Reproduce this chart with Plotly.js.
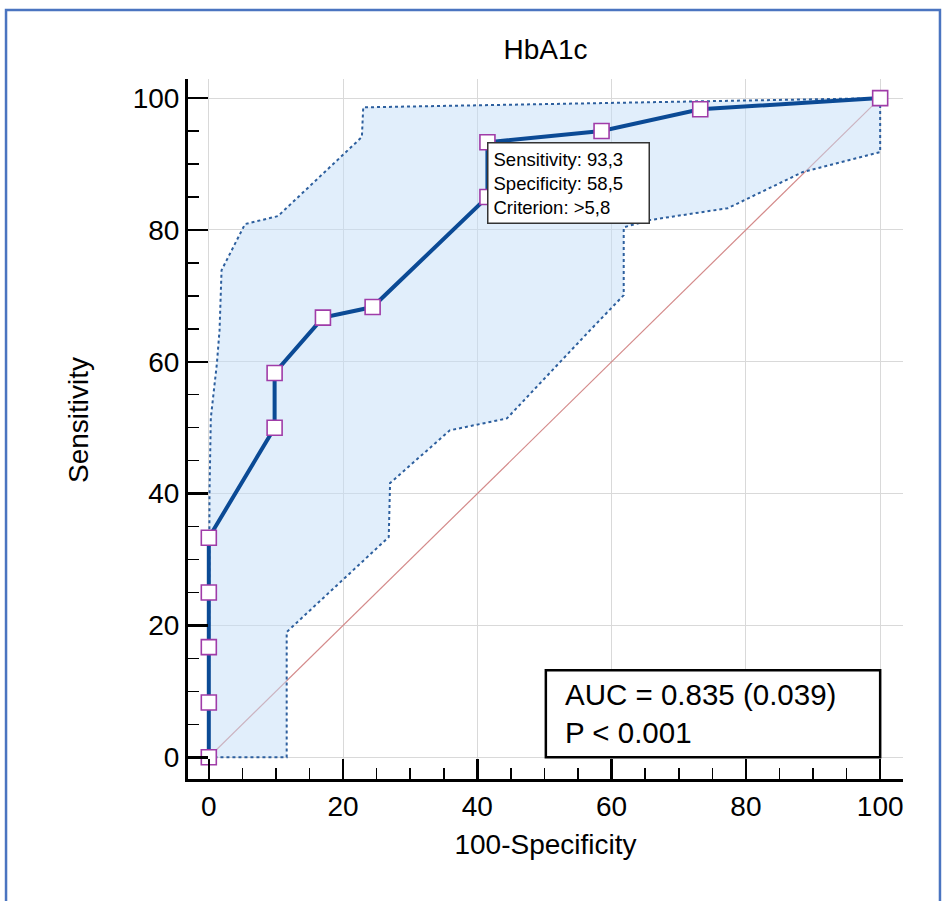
<!DOCTYPE html>
<html>
<head>
<meta charset="utf-8">
<script src="https://cdn.plot.ly/plotly-3.0.1.min.js"></script>
<style>
html,body{margin:0;padding:0;background:#fff;}
#chart{width:945px;height:901px;}
</style>
</head>
<body>
<div id="chart"></div>
<script>
// ROC curve points (100-Specificity, Sensitivity)
const rocX = [0, 0, 0, 0, 0, 9.8, 9.8, 17.0, 24.4, 41.5, 41.5, 58.5, 73.2, 100];
const rocY = [0, 8.3, 16.7, 25.0, 33.3, 50.0, 58.3, 66.7, 68.3, 85.0, 93.3, 95.0, 98.3, 100];

// 95% confidence band: upper boundary (from 0,0 to 100,100)
const upperX = [0, 0.1, 0.3, 1.2, 1.6, 1.9, 5.4, 10.3, 22.8, 23.0, 100];
const upperY = [0, 40.0, 51.5, 59.7, 64.8, 73.9, 80.9, 82.1, 94.1, 98.6, 100];
// lower boundary (from 0,0 to 100,100)
const lowerX = [0, 11.6, 11.6, 26.8, 27.0, 35.9, 44.4, 56.8, 61.8, 61.8, 65.7, 77.3, 88.5, 100, 100];
const lowerY = [0, 0, 19.0, 33.4, 41.6, 49.6, 51.4, 64.8, 70.1, 80.4, 81.5, 83.3, 88.8, 91.8, 100];

// reference diagonal
const diagX = [0, 100];
const diagY = [0, 100];

const titleText = 'HbA1c';
const xTitle = '100-Specificity';
const yTitle = 'Sensitivity';
const tipText = 'Sensitivity: 93,3<br>Specificity: 58,5<br>Criterion: >5,8';
const aucText = 'AUC = 0.835 (0.039)<br>P < 0.001';
const tipPoint = {x: 41.5, y: 93.3};

const FONT = 'Liberation Sans, Arial, sans-serif';

const bandX = upperX.concat(lowerX.slice().reverse());
const bandY = upperY.concat(lowerY.slice().reverse());

const traces = [
  {
    x: diagX, y: diagY, mode: 'lines', type: 'scatter',
    line: {color: '#d48a8a', width: 1.2},
    hoverinfo: 'skip', showlegend: false
  },
  {
    x: bandX, y: bandY, mode: 'lines', type: 'scatter',
    fill: 'toself', fillcolor: 'rgba(196,221,247,0.5)',
    line: {color: '#2d5f9e', width: 2, dash: 'dot'},
    hoverinfo: 'skip', showlegend: false
  },
  {
    x: rocX, y: rocY, mode: 'lines+markers', type: 'scatter',
    line: {color: '#0b4a95', width: 4},
    marker: {symbol: 'square', size: 15, color: '#ffffff',
             line: {color: '#a03ca8', width: 1.6}},
    showlegend: false
  }
];

const axisCommon = {
  showline: true, linecolor: '#000', linewidth: 3,
  ticks: 'inside', ticklen: 20, tickwidth: 2.5, tickcolor: '#000',
  dtick: 20, tick0: 0,
  showgrid: true, gridcolor: '#d9d9d9', gridwidth: 1,
  zeroline: false,
  tickfont: {family: FONT, size: 28, color: '#000'},
  minor: {dtick: 5, tick0: 0, ticks: 'inside', ticklen: 11, tickwidth: 1.5,
          tickcolor: '#000', showgrid: false},
  mirror: false
};

const layout = {
  width: 945, height: 901,
  margin: {l: 188, r: 42, t: 79, b: 122},
  paper_bgcolor: '#fff', plot_bgcolor: '#fff',
  font: {family: FONT, color: '#000'},
  title: {text: titleText, font: {family: FONT, size: 28, color: '#000'},
          x: 0.5, xref: 'paper', y: 1 - 49 / 901, yref: 'container', yanchor: 'middle'},
  xaxis: Object.assign({}, axisCommon, {
    range: [-3.1, 103.4],
    title: {text: xTitle, font: {family: FONT, size: 28, color: '#000'}, standoff: 14}
  }),
  yaxis: Object.assign({}, axisCommon, {
    range: [-3.3, 102.9]
  }),
  shapes: [
    {type: 'rect', xref: 'x', yref: 'y', x0: 50.2, x1: 100, y0: 0, y1: 13.2,
     line: {color: '#000', width: 2.5}, fillcolor: '#fff', layer: 'above'},
    {type: 'rect', xref: 'paper', yref: 'paper', x0: -0.2545, x1: 1.0517, y0: -0.2, y1: 1.0986,
     line: {color: '#4a74c0', width: 2.5}, fillcolor: 'rgba(0,0,0,0)', layer: 'above'}
  ],
  annotations: [
    {x: (79 - 188) / 715, y: (779 - 420) / 700, xref: 'paper', yref: 'paper',
     xanchor: 'center', yanchor: 'middle', textangle: -90,
     text: yTitle, showarrow: false,
     font: {family: FONT, size: 28, color: '#000'}},
    {x: tipPoint.x, y: tipPoint.y, xref: 'x', yref: 'y', xanchor: 'left', yanchor: 'top',
     text: tipText, showarrow: false, align: 'left', width: 150,
     font: {family: FONT, size: 18.5, color: '#000'},
     bgcolor: '#fff', bordercolor: '#333', borderwidth: 1.5, borderpad: 5},
    {x: 52.8, y: 6.6, xref: 'x', yref: 'y', xanchor: 'left', yanchor: 'middle',
     text: aucText, showarrow: false, align: 'left',
     font: {family: FONT, size: 29.5, color: '#000'}}
  ]
};

Plotly.newPlot('chart', traces, layout, {displayModeBar: false, staticPlot: true});
</script>
</body>
</html>
